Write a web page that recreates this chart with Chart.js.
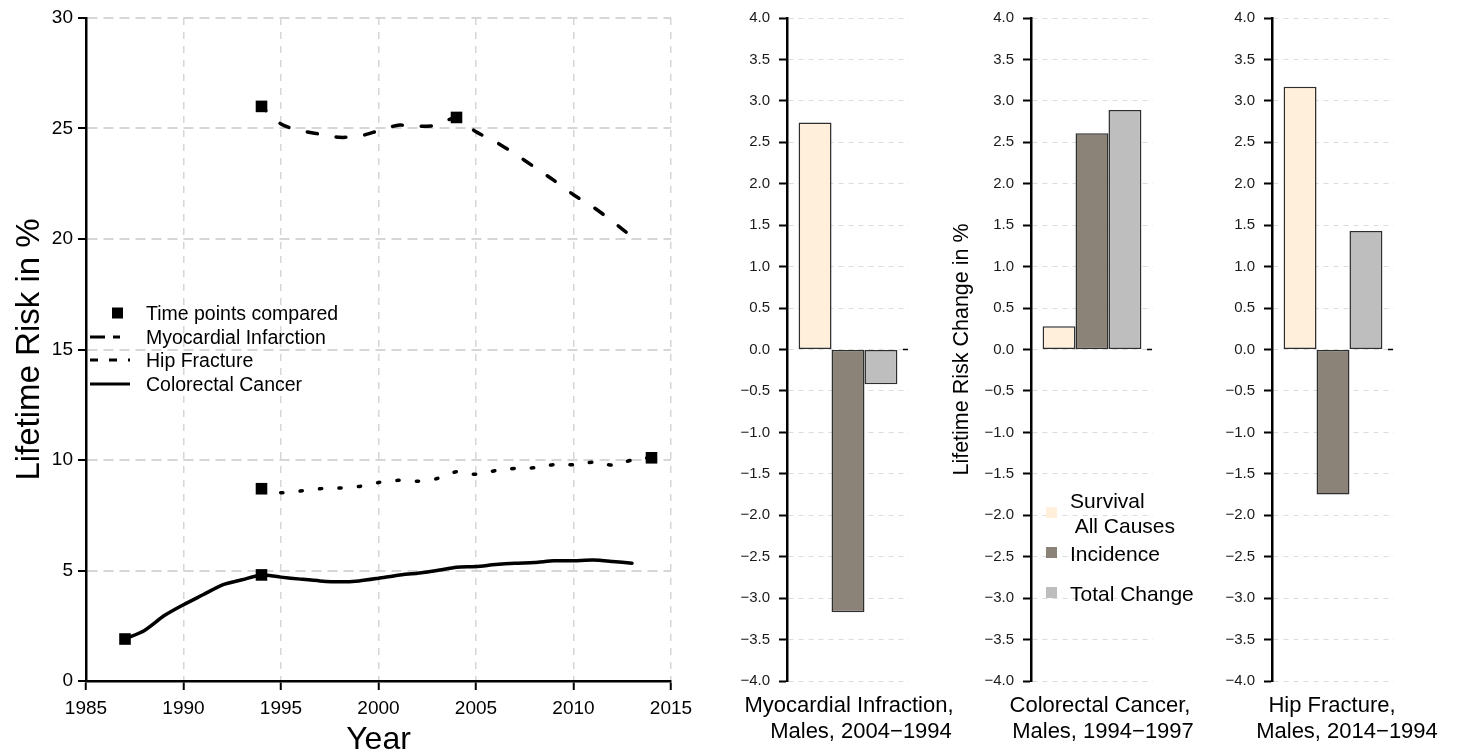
<!DOCTYPE html>
<html>
<head>
<meta charset="utf-8">
<script src="https://cdn.jsdelivr.net/npm/chart.js@4"></script>
<style>
  body { margin: 0; background: #fff; width: 1460px; height: 753px; overflow: hidden; position: relative;
         font-family: "Liberation Sans", Arial, sans-serif; color: #000; }
  canvas { position: absolute; top: 0; }
  .row { position: absolute; display: flex; align-items: center; white-space: pre; }
  .lbl { position: absolute; white-space: pre; font-size: 22px; line-height: 26px; transform: translateX(-50%); }
</style>
</head>
<body>
<canvas id="trend" width="700" height="753" style="left:0"></canvas>
<canvas id="bar0" width="240" height="753" style="left:700px"></canvas>
<canvas id="bar1" width="245" height="753" style="left:940px"></canvas>
<canvas id="bar2" width="275" height="753" style="left:1185px"></canvas>
<div id="trendLegend"></div>
<div id="barLegend"></div>
<div id="barLabels"></div>

<script>
// ---- data: left panel (lifetime risk by year) ----
const years = [1987, 1988, 1989, 1990, 1991, 1992, 1993, 1994, 1995, 1996, 1997, 1998, 1999, 2000,
               2001, 2002, 2003, 2004, 2005, 2006, 2007, 2008, 2009, 2010, 2011, 2012, 2013, 2014];
const miRisk  = [null, null, null, null, null, null, null, 26.0, 25.2, 24.9, 24.75, 24.6, 24.65, 24.9,
                 25.15, 25.1, 25.15, 25.5, 24.85, 24.4, 23.85, 23.25, 22.65, 22.0, 21.45, 20.8, 20.1, null];
const hipRisk = [null, null, null, null, null, null, null, 8.7, 8.52, 8.6, 8.7, 8.73, 8.8, 8.98,
                 9.08, 9.04, 9.16, 9.47, 9.35, 9.52, 9.62, 9.65, 9.79, 9.79, 9.9, 9.77, 10.0, 10.12];
const crcRisk = [1.9, 2.29, 2.95, 3.45, 3.9, 4.35, 4.58, 4.8, 4.7, 4.61, 4.53, 4.49, 4.53, 4.65,
                 4.79, 4.88, 5.0, 5.15, 5.18, 5.27, 5.33, 5.36, 5.44, 5.44, 5.47, 5.41, 5.33, null];
const cmpYears = [1987, 1994, 1994, 1994, 2004, 2014];
const cmpRisk  = [1.9, 4.8, 8.7, 26.0, 25.5, 10.1];
const seriesNames = ['Time points compared', 'Myocardial Infarction', 'Hip Fracture', 'Colorectal Cancer'];

// ---- data: right panels (change in lifetime risk) ----
const panelTitles = [
  ['Myocardial Infraction,', 'Males, 2004\u22121994'],
  ['Colorectal Cancer,', 'Males, 1994\u22121997'],
  ['Hip Fracture,', 'Males, 2014\u22121994'],
];
const components = ['Survival\n All Causes', 'Incidence', 'Total Change'];
const survivalChange  = [2.74, 0.28, 3.17];
const incidenceChange = [-3.17, 2.61, -1.75];
const totalChange     = [-0.42, 2.89, 1.43];

const FILLS = ['#FFEFDB', '#8B8378', '#BEBEBE'];
const MI_DASH = [10, 19];
const HIP_DASH = [2.5, 17];

Chart.defaults.font.family = '"Liberation Sans", Arial, sans-serif';
Chart.defaults.color = '#000';
Chart.defaults.animation = false;

// ===== LEFT: trend chart =====
new Chart(document.getElementById('trend'), {
  type: 'line',
  data: {
    labels: years,
    datasets: [
      {
        label: seriesNames[0],
        data: cmpYears.map((x, i) => ({ x, y: cmpRisk[i] })),
        showLine: false,
        pointStyle: 'rect',
        pointRadius: 8.2,
        backgroundColor: '#000',
        borderWidth: 0,
      },
      { label: seriesNames[1], data: miRisk, borderDash: MI_DASH, borderDashOffset: 4 },
      { label: seriesNames[2], data: hipRisk, borderDash: HIP_DASH },
      { label: seriesNames[3], data: crcRisk },
    ].map((d, i) => i === 0 ? d : Object.assign({
      borderColor: '#000', borderWidth: 3.5, borderCapStyle: 'round', borderJoinStyle: 'round',
      pointRadius: 0, tension: 0.25, fill: false,
    }, d)),
  },
  options: {
    responsive: false,
    layout: { padding: { top: 18, right: 29 } },
    plugins: { legend: { display: false }, tooltip: { enabled: false } },
    scales: {
      x: {
        type: 'linear', min: 1985, max: 2015,
        afterFit: s => { s.height = 72; },
        ticks: { stepSize: 5, font: { size: 19 }, padding: 7, maxRotation: 0, callback: v => String(v) },
        grid: { color: '#d6d6d6', lineWidth: 1.5, tickLength: 9, tickColor: '#000', tickWidth: 2 },
        border: { display: true, color: '#000', width: 2.5, dash: [7, 7] },
        title: { display: true, text: 'Year', font: { size: 32, lineHeight: 1 }, padding: { top: 0, bottom: -3 } },
      },
      y: {
        min: 0, max: 30,
        afterFit: s => { s.width = 86; },
        ticks: { stepSize: 5, font: { size: 19 }, padding: 5 },
        grid: { color: '#d6d6d6', lineWidth: 2, tickLength: 8, tickColor: '#000', tickWidth: 2 },
        border: { display: true, color: '#000', width: 2.5, dash: [10, 6] },
        title: { display: true, text: 'Lifetime Risk in %', font: { size: 33, lineHeight: 1 }, padding: { top: 13 } },
      },
    },
  },
});

// ===== RIGHT: three bar panels =====
const zeroDash = {
  id: 'zeroDash',
  afterDatasetsDraw(chart) {
    const { ctx, chartArea, scales: { y } } = chart;
    const py = y.getPixelForValue(0);
    ctx.save();
    ctx.strokeStyle = '#000';
    ctx.lineWidth = 1.5;
    ctx.beginPath();
    ctx.moveTo(chartArea.right - 6, py);
    ctx.lineTo(chartArea.right - 1, py);
    ctx.stroke();
    ctx.restore();
  },
};

const axisWidths = [87, 91, 87];
const rightPads  = [31, 32, 66];

[0, 1, 2].forEach(p => {
  const values = [survivalChange[p], incidenceChange[p], totalChange[p]];
  new Chart(document.getElementById('bar' + p), {
    type: 'bar',
    data: {
      labels: [''],
      datasets: components.map((name, k) => ({
        label: name,
        data: [values[k]],
        backgroundColor: FILLS[k],
        borderColor: '#2e2e2e',
        borderWidth: 1.5,
        borderSkipped: false,
        categoryPercentage: 0.81,
        barPercentage: 1,
      })),
    },
    options: {
      responsive: false,
      layout: { padding: { top: 17, bottom: 72, right: rightPads[p] } },
      plugins: { legend: { display: false }, tooltip: { enabled: false } },
      scales: {
        x: { display: false },
        y: {
          min: -4, max: 4,
          afterFit: s => { s.width = axisWidths[p]; },
          ticks: {
            stepSize: 0.5, font: { size: 15 }, color: '#1a1a1a', padding: 9,
            callback: v => Math.abs(v) < 1e-9 ? '0.0' : v.toFixed(1).replace('-', '\u2212'),
          },
          grid: { color: '#dcdcdc', lineWidth: 1, tickLength: 8, tickColor: '#000', tickWidth: 2 },
          border: { display: true, color: '#000', width: 2.5, dash: [5, 5] },
          title: {
            display: p === 1, text: 'Lifetime Risk Change in %',
            font: { size: 21.5, lineHeight: 1 }, padding: { top: 11 },
          },
        },
      },
    },
    plugins: [zeroDash],
  });
});

// ===== legends and panel labels (HTML text) =====
function sample(dash, isSquare) {
  if (isSquare) {
    return '<svg width="44" height="14"><rect x="22" y="1.5" width="11" height="11" fill="#000"/></svg>';
  }
  const da = dash ? ` stroke-dasharray="${dash}"` : '';
  return `<svg width="44" height="14"><line x1="0" y1="7" x2="40" y2="7" stroke="#000" stroke-width="3"${da}/></svg>`;
}
const trendRows = [sample(null, true), sample('15 8 7 60'), sample('8 11'), sample(null)];
const trendY = [313, 337, 360, 384];
document.getElementById('trendLegend').innerHTML = seriesNames.map((name, i) =>
  `<div class="row" style="left:90px;top:${trendY[i] - 12}px;height:24px;font-size:19.5px">` +
  `${trendRows[i]}<span style="margin-left:12px">${name}</span></div>`).join('');

const barLegY = [513, 553, 593];
document.getElementById('barLegend').innerHTML = components.map((name, k) =>
  `<div style="position:absolute;left:1046px;top:${barLegY[k] - 6}px;width:11px;height:11px;background:${FILLS[k]}"></div>` +
  `<div style="position:absolute;left:1070px;top:${barLegY[k] - (k === 0 ? 25 : 12)}px;font-size:21px;line-height:25px;white-space:pre">${name}</div>`
).join('');

const labelCx = [[849, 861], [1100, 1103], [1332, 1347]];
document.getElementById('barLabels').innerHTML = panelTitles.map((lines, p) =>
  lines.map((t, j) => `<div class="lbl" style="left:${labelCx[p][j]}px;top:${692 + j * 26}px">${t}</div>`).join('')
).join('');
</script>
</body>
</html>
